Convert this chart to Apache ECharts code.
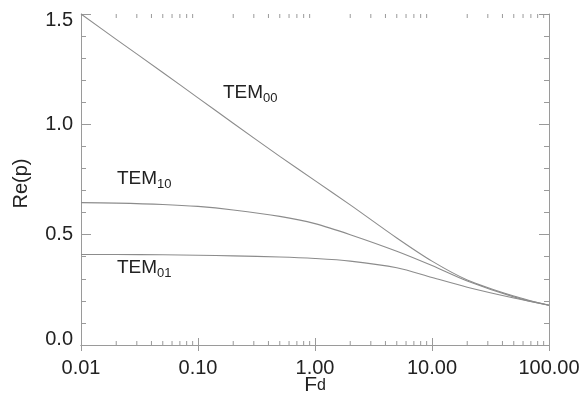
<!DOCTYPE html>
<html>
<head>
<meta charset="utf-8">
<script src="https://cdn.jsdelivr.net/npm/echarts@6/dist/echarts.min.js"></script>
<style>
html,body{margin:0;padding:0;background:#fff;}
#c{width:583px;height:400px;}
</style>
</head>
<body>
<div id="c"></div>
<script>
// Data
const fd = [0.01, 0.02, 0.05, 0.1, 0.2, 0.5, 1, 2, 5, 10, 20, 50, 100];
const tem00 = [1.50, 1.385, 1.235, 1.12, 1.005, 0.855, 0.745, 0.635, 0.485, 0.38, 0.295, 0.222, 0.18];
const tem10 = [0.645, 0.643, 0.637, 0.628, 0.612, 0.583, 0.55, 0.50, 0.425, 0.36, 0.29, 0.218, 0.18];
const tem01 = [0.41, 0.41, 0.409, 0.407, 0.404, 0.399, 0.392, 0.38, 0.35, 0.306, 0.262, 0.213, 0.18];
const xTicks = ['0.01', '0.10', '1.00', '10.00', '100.00'];
const yTicks = ['0.0', '0.5', '1.0', '1.5'];
const minorX = [];
[0.01, 0.1, 1, 10].forEach(d => { for (let k = 2; k <= 9; k++) minorX.push(+(d * k).toPrecision(3)); });

const FONT = "'Liberation Sans', Arial, Helvetica, sans-serif";
const AX = '#9a9a9a';
const LINE = '#8c8c8c';
const TXT = '#222';

const pair = (xs, ys) => xs.map((x, i) => [x, ys[i]]);

const chart = echarts.init(document.getElementById('c'), null, {renderer: 'canvas'});

const lineSeries = (name, ys) => ({
  name, type: 'line', data: pair(fd, ys), smooth: 0.3,
  showSymbol: false, lineStyle: {color: LINE, width: 1.1}
});

const sub = {
  a: {fontSize: 19, fill: TXT, fontFamily: FONT, lineHeight: 22, verticalAlign: 'bottom'},
  b: {fontSize: 13, fill: TXT, fontFamily: FONT, lineHeight: 14, verticalAlign: 'bottom', padding: [0, 0, -3, 0]}
};

const option = {
  animation: false,
  textStyle: {fontFamily: FONT},
  grid: {left: 81, right: 34, top: 14, bottom: 55, containLabel: false, outerBoundsMode: 'none'},
  xAxis: [
    {
      type: 'log', logBase: 10, min: 0.01, max: 100, position: 'bottom',
      axisLine: {show: true, lineStyle: {color: AX, width: 1}},
      axisTick: {show: true, inside: true, length: 7, lineStyle: {color: AX}},
      splitLine: {show: false},
      axisLabel: {
        fontSize: 20, color: TXT, margin: 13, fontFamily: FONT,
        formatter: v => {
          const i = Math.round(Math.log10(v)) + 2;
          return xTicks[i] !== undefined ? xTicks[i] : '';
        }
      },
      name: '{F|F}{d|d}', nameLocation: 'middle', nameGap: 30, nameMoveOverlap: false,
      nameTextStyle: {
        padding: [0, 0, 14, 0],
        rich: {
          F: {fontSize: 21, color: TXT, fontFamily: FONT},
          d: {fontSize: 16, color: TXT, fontFamily: FONT}
        }
      }
    },
    {
      type: 'log', logBase: 10, min: 0.01, max: 100, position: 'top',
      axisLine: {show: true, lineStyle: {color: AX, width: 1}},
      axisTick: {show: true, inside: true, length: 6, lineStyle: {color: AX}},
      splitLine: {show: false},
      axisLabel: {show: false}
    }
  ],
  yAxis: [
    {
      type: 'value', min: 0, max: 1.5, interval: 0.5, position: 'left',
      axisLine: {show: true, lineStyle: {color: AX, width: 1}},
      axisTick: {show: true, inside: true, length: 10, lineStyle: {color: AX}},
      minorTick: {show: true, splitNumber: 5, length: 5, lineStyle: {color: AX}},
      splitLine: {show: false},
      minorSplitLine: {show: false},
      axisLabel: {
        fontSize: 20, color: TXT, margin: 8, fontFamily: FONT,
        formatter: v => {
          const i = Math.round(v / 0.5);
          if (i === 3) return '{top|' + yTicks[i] + '}';
          if (i === 0) return '{bot|' + yTicks[i] + '}';
          return yTicks[i];
        },
        rich: {
          top: {fontSize: 20, color: TXT, fontFamily: FONT, padding: [12, 0, 0, 0]},
          bot: {fontSize: 20, color: TXT, fontFamily: FONT, padding: [0, 0, 12, 0]}
        }
      },
      name: 'Re(p)', nameLocation: 'middle', nameGap: 50,
      nameTextStyle: {fontSize: 20, color: TXT, fontFamily: FONT, padding: [0, 8, 0, 0]}
    },
    {
      type: 'value', min: 0, max: 1.5, interval: 0.5, position: 'right',
      axisLine: {show: true, lineStyle: {color: AX, width: 1}},
      axisTick: {show: true, inside: true, length: 10, lineStyle: {color: AX}},
      minorTick: {show: true, splitNumber: 5, length: 5, lineStyle: {color: AX}},
      splitLine: {show: false},
      axisLabel: {show: false}
    }
  ],
  series: [
    lineSeries('TEM00', tem00),
    lineSeries('TEM10', tem10),
    lineSeries('TEM01', tem01),
    {
      name: 'minorXTicks', type: 'custom', silent: true, clip: false,
      data: minorX.map(v => [v]),
      encode: {x: 0},
      renderItem: (params, api) => {
        const v = api.value(0);
        const b = api.coord([v, 0]);
        const t = api.coord([v, 1.5]);
        return {
          type: 'group',
          children: [
            {type: 'line', shape: {x1: b[0], y1: b[1], x2: b[0], y2: b[1] - 4}, style: {stroke: AX, lineWidth: 1}},
            {type: 'line', shape: {x1: t[0], y1: t[1], x2: t[0], y2: t[1] + 4}, style: {stroke: AX, lineWidth: 1}}
          ]
        };
      }
    }
  ],
  graphic: [
    {type: 'text', left: 223, top: 83, style: {text: '{a|TEM}{b|00}', rich: sub}},
    {type: 'text', left: 117, top: 169, style: {text: '{a|TEM}{b|10}', rich: sub}},
    {type: 'text', left: 117, top: 258, style: {text: '{a|TEM}{b|01}', rich: sub}}
  ]
};
chart.setOption(option);
</script>
</body>
</html>
